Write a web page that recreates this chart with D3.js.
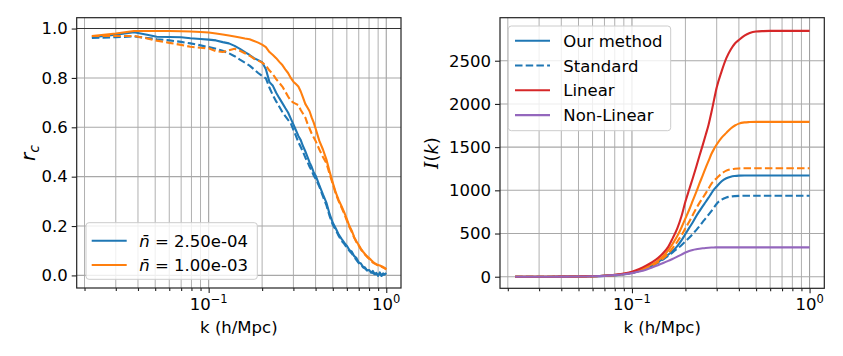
<!DOCTYPE html>
<html><head><meta charset="utf-8">
<script src="https://cdn.jsdelivr.net/npm/d3@7"></script>
<style>body{margin:0;background:#fff} text{font-family:"DejaVu Sans",sans-serif}</style>
</head><body><svg id="c" width="843" height="356"></svg>
<script>
// ---------- Left panel data: cross-correlation coefficient r_c(k) ----------
const kLeft = [0.022,0.03,0.038,0.045,0.051,0.06,0.07,0.079,0.09,
  0.1,0.11,0.12,0.13,0.14,0.15,0.16,0.17,0.18,0.19,0.2,0.21,0.22,0.23,0.24,0.25,0.26,0.27,0.28,0.29,0.3,
  0.31,0.32,0.33,0.34,0.35,0.36,0.37,0.38,0.39,0.4,
  0.42,0.44,0.46,0.48,0.5,0.52,0.54,0.56,0.58,0.6,0.62,0.64,0.66,0.68,0.7,0.72,0.74,0.76,0.78,0.8,
  0.82,0.84,0.86,0.88,0.9,0.92,0.94,0.96,0.98,1.0];
const rcOurLowN = [0.965,0.975,0.985,0.975,0.967,0.966,0.965,0.961,0.958,
  0.955,0.952,0.945,0.94,0.93,0.918,0.905,0.893,0.88,0.872,0.864,0.835,0.783,0.768,0.74,0.718,0.698,0.678,0.66,0.635,0.612,
  0.588,0.565,0.548,0.523,0.503,0.48,0.458,0.44,0.418,0.405,
  0.365,0.328,0.295,0.248,0.213,0.19,0.165,0.148,0.133,0.12,0.103,0.096,0.078,0.07,0.052,0.048,0.035,0.032,0.02,0.022,
  0.012,0.018,0.006,0.01,-0.002,0.012,0.0,0.008,0.004,0.01];
const rcStdLowN = [0.962,0.965,0.968,0.962,0.957,0.952,0.946,0.94,0.932,
  0.925,0.918,0.91,0.9,0.888,0.874,0.862,0.85,0.835,0.82,0.808,0.798,0.76,0.73,0.705,0.683,0.662,0.645,0.63,0.616,0.59,
  0.565,0.54,0.52,0.5,0.478,0.46,0.44,0.425,0.405,0.392,
  0.36,0.32,0.285,0.24,0.205,0.183,0.16,0.14,0.128,0.112,0.1,0.088,0.075,0.062,0.05,0.043,0.033,0.028,0.02,0.016,
  0.012,0.01,0.005,0.006,0.0,0.008,-0.002,0.004,0.002,0.006];
const rcOurHighN = [0.970,0.98,0.99,0.99,0.99,0.99,0.989,0.988,0.986,
  0.984,0.98,0.976,0.972,0.968,0.964,0.96,0.957,0.95,0.943,0.935,0.925,0.905,0.893,0.88,0.865,0.852,0.835,0.82,0.80,0.785,
  0.775,0.765,0.745,0.72,0.695,0.68,0.665,0.64,0.62,0.595,
  0.545,0.51,0.47,0.42,0.375,0.335,0.305,0.28,0.255,0.228,0.2,0.18,0.155,0.137,0.123,0.108,0.096,0.086,0.077,0.07,
  0.063,0.055,0.05,0.046,0.042,0.04,0.037,0.034,0.03,0.024];
const rcStdHighN = [0.970,0.97,0.97,0.96,0.951,0.942,0.934,0.926,0.922,
  0.92,0.908,0.905,0.912,0.918,0.91,0.9,0.89,0.878,0.87,0.862,0.85,0.83,0.815,0.795,0.78,0.765,0.745,0.725,0.708,0.7,
  0.695,0.69,0.67,0.655,0.64,0.615,0.595,0.575,0.56,0.545,
  0.51,0.48,0.455,0.41,0.37,0.33,0.3,0.275,0.25,0.222,0.196,0.176,0.152,0.134,0.12,0.105,0.094,0.084,0.075,0.068,
  0.06,0.052,0.048,0.044,0.04,0.038,0.035,0.032,0.029,0.025];
const leftLegendLabels = ["2.50e-04","1.00e-03"];

// ---------- Right panel data: cumulative information I(k) ----------
const kRight = [0.022,0.03,0.04,0.05,0.06,0.07,0.08,0.09,
  0.1,0.11,0.12,0.13,0.14,0.15,0.16,0.17,0.18,0.19,0.2,0.21,0.22,0.23,0.24,0.25,0.26,0.27,0.28,0.29,0.3,
  0.32,0.34,0.36,0.38,0.4,0.43,0.46,0.5,0.55,0.6,0.7,0.8,0.9,1.0];
const infoOurLowN = [0,0,1,2,5,10,18,30,
  46,70,98,130,170,210,255,300,355,420,495,565,630,700,760,815,865,915,965,1010,1045,
  1105,1140,1158,1166,1170,1172,1172,1172,1172,1172,1172,1172,1172,1172];
const infoStdLowN = [0,0,1,2,5,10,17,28,
  43,65,92,128,160,200,240,283,325,365,408,450,495,540,585,632,675,718,760,802,845,
  892,917,928,933,936,938,938,938,938,938,938,938,938,938];
const infoOurHighN = [0,0,1,3,6,11,20,34,
  52,78,108,145,185,240,305,385,470,570,675,775,880,980,1080,1170,1260,1340,1420,1480,1530,
  1610,1665,1715,1750,1772,1786,1790,1792,1792,1792,1792,1792,1792,1792];
const infoStdHighN = [0,0,1,2,5,10,18,30,
  46,70,98,130,170,215,270,335,405,480,560,635,715,790,855,910,965,1020,1075,1110,1140,
  1195,1228,1243,1250,1253,1255,1255,1255,1255,1255,1255,1255,1255,1255];
const infoLinear = [0,0,1,3,6,12,22,38,
  58,90,128,170,215,275,345,450,560,700,870,1010,1140,1270,1400,1520,1640,1760,1900,2050,2190,
  2380,2530,2630,2700,2740,2790,2820,2838,2843,2845,2845,2845,2845,2845];
const infoNonLinear = [0,0,1,2,5,10,18,29,
  42,60,82,108,133,158,183,208,232,256,280,298,310,318,324,329,333,336,338,339,340,
  340,340,340,340,340,340,340,340,340,340,340,340,340,340];
const rightLegendLabels = ["Our method","Standard","Linear","Non-Linear"];

const yTicksLeft = [0,0.2,0.4,0.6,0.8,1.0];
const yTicksRight = [0,500,1000,1500,2000,2500];
const xMajorTicks = [0.1,1];
const xMinorTicks = [0.02,0.03,0.04,0.05,0.06,0.07,0.08,0.09,0.2,0.3,0.4,0.5,0.6,0.7,0.8,0.9];

// ---------- drawing ----------
const C = {blue:"#1f77b4",orange:"#ff7f0e",red:"#d62728",purple:"#9467bd"};
const FS = 16.5;
const svg = d3.select("#c");
const xDom = [Math.pow(10,-1.743), Math.pow(10,0.083)];

function panel(box, yDom, yTicks, yFmt) {
  const x = d3.scaleLog().domain(xDom).range([box.x0, box.x1]);
  const y = d3.scaleLinear().domain(yDom).range([box.y1, box.y0]);
  const g = svg.append("g");
  g.selectAll(".gmin").data(xMinorTicks).join("line")
    .attr("x1",d=>x(d)).attr("x2",d=>x(d)).attr("y1",box.y0).attr("y2",box.y1)
    .attr("stroke","#b0b0b0").attr("stroke-width",1);
  g.selectAll(".gmaj").data(xMajorTicks).join("line")
    .attr("x1",d=>x(d)).attr("x2",d=>x(d)).attr("y1",box.y0).attr("y2",box.y1)
    .attr("stroke","#a0a0a0").attr("stroke-width",1.1);
  g.selectAll(".gy").data(yTicks).join("line")
    .attr("x1",box.x0).attr("x2",box.x1).attr("y1",d=>y(d)).attr("y2",d=>y(d))
    .attr("stroke","#a8a8a8").attr("stroke-width",1.1);
  const ax = g.append("g").attr("transform",`translate(0,${box.y1})`)
    .call(d3.axisBottom(x).tickValues(xMajorTicks).tickSize(5).tickPadding(4).tickFormat(""));
  const axm = g.append("g").attr("transform",`translate(0,${box.y1})`)
    .call(d3.axisBottom(x).tickValues(xMinorTicks).tickSize(3).tickFormat(""));
  const ay = g.append("g").attr("transform",`translate(${box.x0},0)`)
    .call(d3.axisLeft(y).tickValues(yTicks).tickSize(5).tickPadding(4).tickFormat(yFmt));
  [ax,axm,ay].forEach(a=>{a.select(".domain").remove(); a.selectAll("line").attr("stroke","#222").attr("stroke-width",1.1);});
  ay.selectAll("text").attr("font-size",FS).attr("fill","#000").attr("font-family","DejaVu Sans");
  const exps = {0.1:"\u22121", 1:"0"};
  g.selectAll(".xl").data(xMajorTicks).join("text")
    .attr("x",d=>x(d)).attr("y",box.y1+22).attr("text-anchor","middle").attr("font-size",FS)
    .each(function(d){
      const t=d3.select(this);
      t.append("tspan").text("10");
      t.append("tspan").attr("dy",-7).attr("font-size",11.5).text(exps[d]);
    });
  g.append("text").attr("x",(box.x0+box.x1)/2).attr("y",333).attr("text-anchor","middle")
    .attr("font-size",FS).text("k (h/Mpc)");
  return {g,x,y};
}

function series(p, ks, vs, color, dashed, curve) {
  const line = d3.line().x((d,i)=>p.x(ks[i])).y(d=>p.y(d));
  if (curve) line.curve(curve);
  p.g.append("path").datum(vs).attr("d",line).attr("fill","none")
    .attr("stroke",color).attr("stroke-width",2.1)
    .attr("stroke-dasharray",dashed?"7.5,3.2":null).attr("stroke-linejoin","round");
}
function spines(box){
  svg.append("rect").attr("x",box.x0).attr("y",box.y0).attr("width",box.x1-box.x0).attr("height",box.y1-box.y0)
    .attr("fill","none").attr("stroke","#222").attr("stroke-width",1.2);
}

// Left panel
const LB = {x0:76.7,x1:401,y0:17.7,y1:288};
const pL = panel(LB, [-0.051,1.044], yTicksLeft, d3.format(".1f"));
pL.g.append("line").attr("x1",LB.x0).attr("x2",LB.x1).attr("y1",pL.y(1)).attr("y2",pL.y(1))
  .attr("stroke","#333").attr("stroke-width",1.1);
series(pL,kLeft,rcOurLowN,C.blue,false);
series(pL,kLeft,rcStdLowN,C.blue,true);
series(pL,kLeft,rcOurHighN,C.orange,false);
series(pL,kLeft,rcStdHighN,C.orange,true);
spines(LB);

// Right panel
const RB = {x0:500,x1:824.3,y0:17.7,y1:288.3};
const pR = panel(RB, [-134,2998], yTicksRight, d3.format("d"));
const mono = d3.curveMonotoneX;
series(pR,kRight,infoOurLowN,C.blue,false,mono);
series(pR,kRight,infoStdLowN,C.blue,true,mono);
series(pR,kRight,infoOurHighN,C.orange,false,mono);
series(pR,kRight,infoStdHighN,C.orange,true,mono);
series(pR,kRight,infoLinear,C.red,false,mono);
series(pR,kRight,infoNonLinear,C.purple,false,mono);
spines(RB);

// Y labels
const yl = svg.append("text").attr("transform","translate(35,153) rotate(-90)").attr("text-anchor","middle").attr("font-size",20);
yl.append("tspan").attr("font-style","italic").text("r");
yl.append("tspan").attr("font-style","italic").attr("font-size",14).attr("dy",3.5).text("c");
const yr = svg.append("text").attr("transform","translate(438,153) rotate(-90)").attr("text-anchor","middle").attr("font-size",18);
yr.append("tspan").attr("font-style","italic").attr("font-family","DejaVu Serif").attr("font-size",18.5).text("I");
yr.append("tspan").text("(");
yr.append("tspan").attr("font-style","italic").text("k");
yr.append("tspan").text(")");

// Legends
function legend(box, items){
  const g = svg.append("g");
  g.append("rect").attr("x",box.x).attr("y",box.y).attr("width",box.w).attr("height",box.h)
    .attr("rx",3).attr("fill","#fff").attr("fill-opacity",0.8).attr("stroke","#cccccc").attr("stroke-width",1);
  items.forEach((it,i)=>{
    const yy = box.y + box.first + i*box.step;
    g.append("line").attr("x1",box.x+box.hx0).attr("x2",box.x+box.hx1).attr("y1",yy).attr("y2",yy)
      .attr("stroke",it.color).attr("stroke-width",2.1).attr("stroke-dasharray",it.dashed?"7.5,3.2":null);
    const t = g.append("text").attr("x",box.x+box.tx).attr("y",yy+6).attr("font-size",FS);
    it.label(t);
  });
}
legend({x:86,y:222.7,w:171.3,h:56.6,first:18,step:24.3,hx0:5.7,hx1:40.7,tx:53.3},
  leftLegendLabels.map((lab,i)=>({color:i===0?C.blue:C.orange,dashed:false,label:t=>{
    t.append("tspan").attr("font-style","italic").text("n\u0304");
    t.append("tspan").text(" = "+lab);
  }})));
legend({x:508.3,y:26,w:162.4,h:104.7,first:14.7,step:24.8,hx0:6.7,hx1:41.7,tx:55},
  rightLegendLabels.map((lab,i)=>({color:[C.blue,C.blue,C.red,C.purple][i],dashed:i===1,label:t=>t.text(lab)})));
</script></body></html>
